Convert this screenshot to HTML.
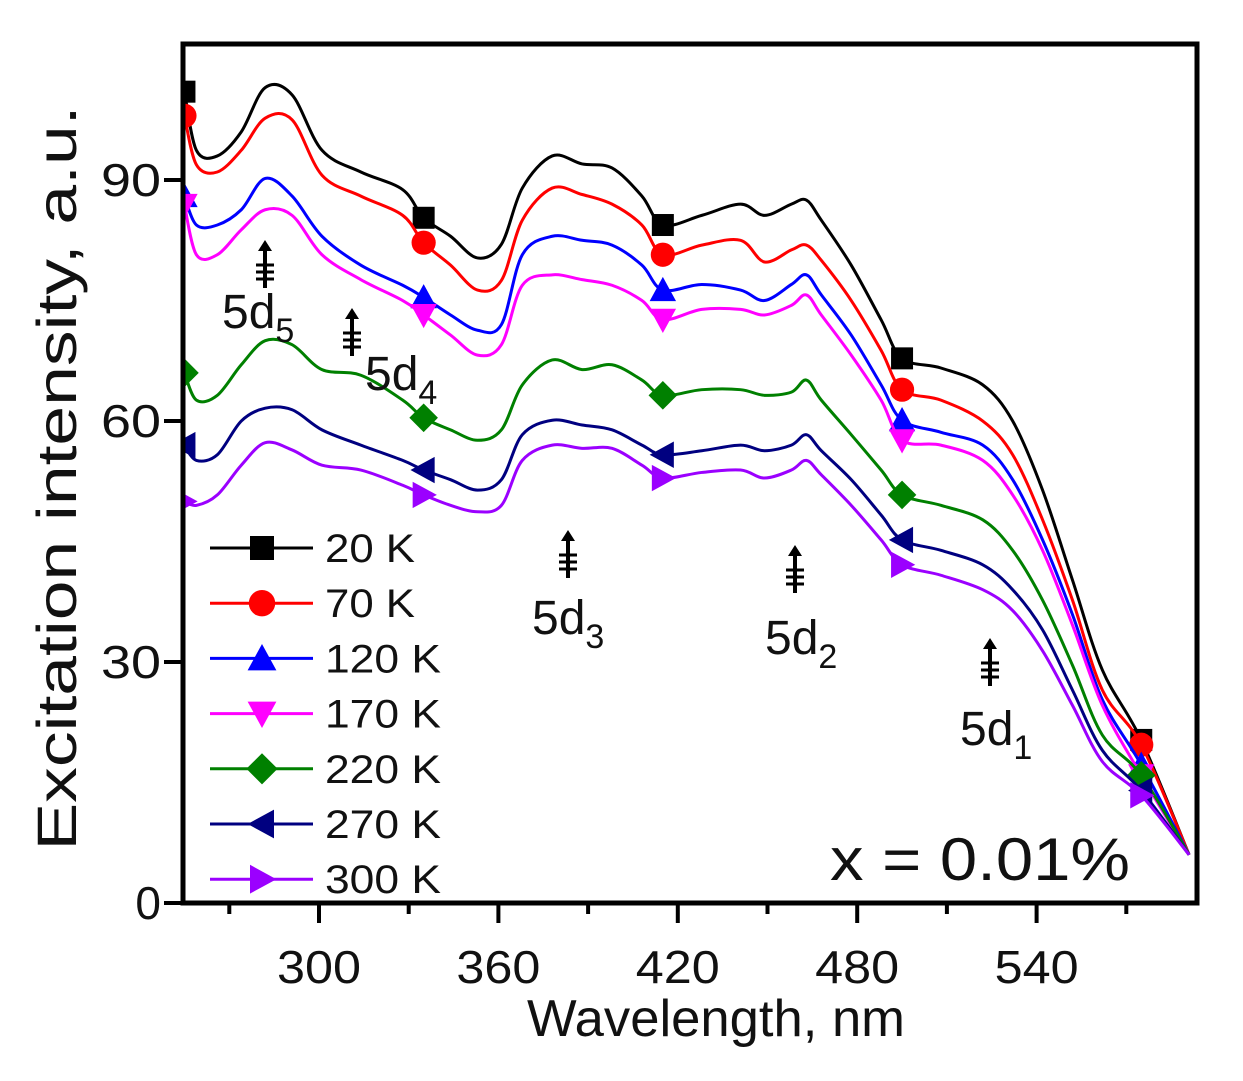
<!DOCTYPE html>
<html><head><meta charset="utf-8"><style>
html,body{margin:0;padding:0;background:#fff;width:1243px;height:1081px;overflow:hidden}
svg{display:block;font-family:"Liberation Sans",Arial,sans-serif}
</style></head><body>
<svg id="chart" width="1243" height="1081" viewBox="0 0 1243 1081"></svg>
<script>
const wavelengths=[255,259,266,274,282,291,301,314,328,335,344,353,361,368,378,388,398,408,415,428,441,449,458,463,468,478,488,495,508,522,532,542,552,562,575,591];
const s20K=[101,93.7,93,96,101.5,100.6,93.7,91,88.8,85.3,83,80.3,82,89,93,92,91.5,88,84.4,85.6,87,85.6,87,87.5,85,79.4,72.6,67.8,66.6,64.5,60,51.4,40.2,29,20.3,6];
const s70K=[98,91.9,91,93.7,97.7,97.5,90.6,88,85.6,82.2,79.4,76.3,77.5,85,89,88.2,87,84.4,80.7,81.9,82.5,79.8,81.3,81.9,80,75,68.8,63.9,62.6,60,55.8,47.7,37.7,26.5,19.7,6];
const s120K=[88,84.4,84.4,86.3,90.2,88,83,79.4,76.9,75.4,73.2,71.3,72,80.7,83,82.5,81.9,79.4,76.3,77,76.3,75,77,78.2,75.7,70.7,64.5,60.1,58.6,57,52.7,45.2,35.9,25.3,17.2,6];
const s170K=[86.9,80.7,80.7,83.8,86.3,85.6,80.7,77.6,75,73.2,70.7,68.2,69.5,76.9,78.2,77.6,76.9,75,72.6,73.9,73.9,73.2,74.4,75.7,73.2,68.2,62.6,57.6,57,55.1,50.8,43.9,34.6,24.6,15.9,6];
const s220K=[66,62.6,63.2,67,70,69.5,66.4,65.7,62.6,60.4,58.9,57.6,58.9,64.5,67.6,66.4,67,65.1,63.2,63.9,63.9,63.2,63.6,65.1,62.6,58.3,53.9,50.8,49.5,47.7,43.9,37.7,29.6,20.9,15.9,6];
const s270K=[57,55.1,55.8,60,61.6,61.4,58.9,57,55.1,53.9,52.7,51.4,52.7,58.3,60.1,59.5,58.9,57,55.8,56.3,57,56.3,57,58.3,56.3,52.7,48.3,45.2,43.9,42.1,39,34,26.5,19,14,6];
const s300K=[50,49.5,50.8,54.5,57.3,56.4,54.5,53.9,52,50.8,49.5,48.7,49.5,55.1,57,56.6,56.6,54.5,52.9,53.6,53.9,52.9,53.9,55.1,53.3,49.5,45.2,42.1,40.8,39,36.4,31.4,24.6,17.6,13.4,6];
const seriesNames=["20 K","70 K","120 K","170 K","220 K","270 K","300 K"];
const xTicks=[300,360,420,480,540];
const yTicks=[0,30,60,90];
const markerWl=[335,415,495,575];

const NS="http://www.w3.org/2000/svg";
const svg=document.getElementById('chart');
const L=183,R=1197,T=44,B=903;
function X(w){return 319+(w-300)*2.99;}
function Y(v){return 903-v*8.033;}
function el(tag,attrs,parent){const e=document.createElementNS(NS,tag);for(const k in attrs)e.setAttribute(k,attrs[k]);(parent||svg).appendChild(e);return e;}

const series=[s20K,s70K,s120K,s170K,s220K,s270K,s300K];
const colors=["#000000","#ff0000","#0000ff","#ff00ff","#008000","#000080","#9b00ff"];
const shapes=["square","circle","up","down","diamond","left","right"];

function marker(g,shape,cx,cy,c,s){
  let m;
  if(shape==="square")m=el('rect',{x:cx-s,y:cy-s,width:2*s,height:2*s,fill:c},g);
  else if(shape==="circle")m=el('circle',{cx:cx,cy:cy,r:s*1.1,fill:c},g);
  else{
    let p;
    if(shape==="up")p=[[cx,cy-s*1.2],[cx+s*1.2,cy+s],[cx-s*1.2,cy+s]];
    else if(shape==="down")p=[[cx,cy+s*1.2],[cx+s*1.2,cy-s],[cx-s*1.2,cy-s]];
    else if(shape==="diamond")p=[[cx,cy-s*1.3],[cx+s*1.3,cy],[cx,cy+s*1.3],[cx-s*1.3,cy]];
    else if(shape==="left")p=[[cx-s*1.2,cy],[cx+s,cy-s*1.2],[cx+s,cy+s*1.2]];
    else p=[[cx+s*1.2,cy],[cx-s,cy-s*1.2],[cx-s,cy+s*1.2]];
    m=el('polygon',{points:p.map(q=>q.join(',')).join(' '),fill:c},g);
  }
  
  
  return m;
}
function interp(arr,w){
  for(let i=0;i<wavelengths.length-1;i++){
    if(w>=wavelengths[i]&&w<=wavelengths[i+1]){const t=(w-wavelengths[i])/(wavelengths[i+1]-wavelengths[i]);return arr[i]+(arr[i+1]-arr[i])*t;}
  }
  return arr[arr.length-1];
}
function pathD(arr){
  const pts=wavelengths.map((w,i)=>[X(w),Y(arr[i])]);
  let d='M'+pts[0][0]+','+pts[0][1];
  for(let i=0;i<pts.length-1;i++){
    const p0=pts[Math.max(0,i-1)],p1=pts[i],p2=pts[i+1],p3=pts[Math.min(pts.length-1,i+2)];
    const c1=[p1[0]+(p2[0]-p0[0])/6,p1[1]+(p2[1]-p0[1])/6];
    const c2=[p2[0]-(p3[0]-p1[0])/6,p2[1]-(p3[1]-p1[1])/6];
    d+=' C'+c1.join(',')+' '+c2.join(',')+' '+p2.join(',');
  }
  return d;
}

const clip=el('clipPath',{id:'plotclip'});
el('rect',{x:L,y:T,width:R-L,height:B-T},clip);

const plot=el('g',{'clip-path':'url(#plotclip)'});


series.forEach((arr,si)=>{
  const g=el('g',{},plot);
  
  
  const p=el('path',{d:pathD(arr),fill:'none',stroke:colors[si],'stroke-width':3,'stroke-linejoin':'round'},g);
  
  
  marker(g,shapes[si],X(wavelengths[0]),Y(arr[0]),colors[si],11);
  markerWl.forEach(w=>marker(g,shapes[si],X(w),Y(interp(arr,w)),colors[si],11));
});

const frame=el('rect',{x:L,y:T,width:R-L,height:B-T,fill:'none',stroke:'#000','stroke-width':5});



const xg=el('g',{});


for(let w=270;w<=590;w+=30){
  const major=xTicks.includes(w);
  el('line',{x1:X(w),y1:B,x2:X(w),y2:B+(major?20:11),stroke:'#000','stroke-width':4},xg);
}
xTicks.forEach(w=>{
  const t=el('text',{x:X(w),y:983,'font-size':46,'text-anchor':'middle',fill:'#111',textLength:84,lengthAdjust:'spacingAndGlyphs'},xg);
  t.textContent=w;
  
  
});
const xt=el('text',{x:716,y:1036,'font-size':52,'text-anchor':'middle',fill:'#111',textLength:378,lengthAdjust:'spacingAndGlyphs'});
xt.textContent='Wavelength, nm';



const yg=el('g',{});


yTicks.forEach(v=>{
  el('line',{x1:L-19,y1:Y(v),x2:L,y2:Y(v),stroke:'#000','stroke-width':4},yg);
  const t=el('text',{x:L-22,y:Y(v)+16,'font-size':46,'text-anchor':'end',fill:'#111'},yg);
  t.textContent=v;
  if(v>0){t.setAttribute('textLength',60);t.setAttribute('lengthAdjust','spacingAndGlyphs');}
  
  
});
const yt=el('text',{x:0,y:0,'font-size':56,'text-anchor':'middle',fill:'#111',transform:'translate(76,478) rotate(-90)',textLength:745,lengthAdjust:'spacingAndGlyphs'});
yt.textContent='Excitation intensity, a.u.';



const lg=el('g',{});


seriesNames.forEach((n,i)=>{
  const y=548+i*55.2;
  const g=el('g',{},lg);
  
  
  el('line',{x1:210,y1:y,x2:313,y2:y,stroke:colors[i],'stroke-width':3},g);
  marker(g,shapes[i],262,y,colors[i],12);
  const t=el('text',{x:325,y:y+14,'font-size':40,fill:'#111',textLength:n.length===4?90:116,lengthAdjust:'spacingAndGlyphs'},g);
  t.textContent=n;
});

const ann=[[265,240,'5d','5',222,328],[352,308,'5d','4',365,390],[568,530,'5d','3',532,634],[795,545,'5d','2',765,654],[990,638,'5d','1',960,745]];
ann.forEach(a=>{
  const g=el('g',{});
  
  
  const x=a[0],y=a[1];
  el('line',{x1:x,y1:y+6,x2:x,y2:y+48,stroke:'#000','stroke-width':4},g);
  el('polygon',{points:`${x},${y} ${x-7},${y+11} ${x+7},${y+11}`,fill:'#000'},g);
  [25,32,39].forEach(d=>el('line',{x1:x-9,y1:y+d,x2:x+9,y2:y+d,stroke:'#000','stroke-width':3},g));
  const t=el('text',{x:a[4],y:a[5],'font-size':48,fill:'#111'},g);
  t.textContent=a[2];
  const s=el('tspan',{'font-size':34,dy:14},t);
  s.textContent=a[3];
});

const xl=el('text',{x:830,y:880,'font-size':60,fill:'#111',textLength:300,lengthAdjust:'spacingAndGlyphs'});
xl.textContent='x = 0.01%';


</script>
</body></html>
